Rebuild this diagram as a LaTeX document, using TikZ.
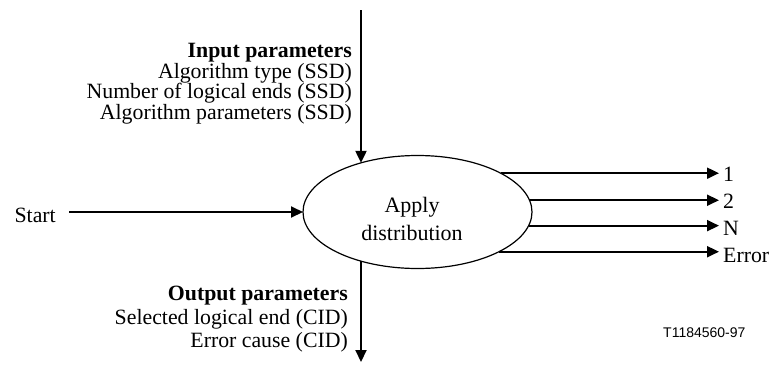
\documentclass[tikz,border=0pt]{standalone}
\usepackage{fontspec}
\setmainfont{Liberation Serif}
\newfontfamily\labsans{Liberation Sans}
\usetikzlibrary{arrows.meta,shapes.geometric}
\begin{document}
\begin{tikzpicture}[x=1pt,y=-1pt,
  txt/.style={inner sep=0pt,font=\fontsize{21.8}{26}\selectfont,text height=14pt,text depth=4pt},
  rtxt/.style={txt,anchor=base east},
  ltxt/.style={txt,anchor=base west},
  arr/.style={line width=2pt,-{Triangle[length=12pt,width=11pt]}},
  proc/.style={ellipse,draw,line width=1.2pt,inner sep=0pt,outer sep=0pt,
    minimum width=229pt,minimum height=113pt},
  proctxt/.style={inner sep=0pt,align=center,font=\fontsize{22}{28}\selectfont}]
\useasboundingbox (0,0) rectangle (777,365);

% central process
\node[proc] (el) at (417.5,212) {};
\node[proctxt] (apply) at (412,218.5) {Apply\\distribution};

% input parameters
\node[rtxt,font=\fontsize{21.8}{26}\selectfont\bfseries] (in1) at (352,57.5) {Input parameters};
\node[rtxt] (in2) at (352,78) {Algorithm type (SSD)};
\node[rtxt] (in3) at (352,98.5) {Number of logical ends (SSD)};
\node[rtxt] (in4) at (352,119) {Algorithm parameters (SSD)};

% output parameters
\node[rtxt,font=\fontsize{21.8}{26}\selectfont\bfseries] (out1) at (348,300) {Output parameters};
\node[rtxt] (out2) at (348,324) {Selected logical end (CID)};
\node[rtxt] (out3) at (348,347.5) {Error cause (CID)};

% start
\node[rtxt] (start) at (56,222) {Start};
\coordinate (sarr) at (69,212);
\draw[arr] (sarr) -- (el.west);

% vertical flows
\coordinate (top) at (361,10);
\coordinate (bot) at (361,362);
\draw[arr] (top) -- (top |- el.139);
\draw[arr] (bot |- el.-139) -- (bot);

% outputs on the right
\coordinate (rx) at (719,0);
\draw[arr] (el.25.2) -- (el.25.2 -| rx);
\draw[arr] (el.6.1) -- (el.6.1 -| rx);
\draw[arr] (el.-7.2) -- (el.-7.2 -| rx);
\draw[arr] (el.-26.3) -- (el.-26.3 -| rx);
\node[ltxt] (o1) at (723,181) {1};
\node[ltxt] (o2) at (723,208) {2};
\node[ltxt] (oN) at (723,235) {N};
\node[ltxt] (oE) at (723,262) {Error};

% figure id
\node[anchor=base west,inner sep=0pt,font=\labsans\fontsize{14}{16}\selectfont] (fid) at (663,337) {T1184560-97};
\end{tikzpicture}
\end{document}
